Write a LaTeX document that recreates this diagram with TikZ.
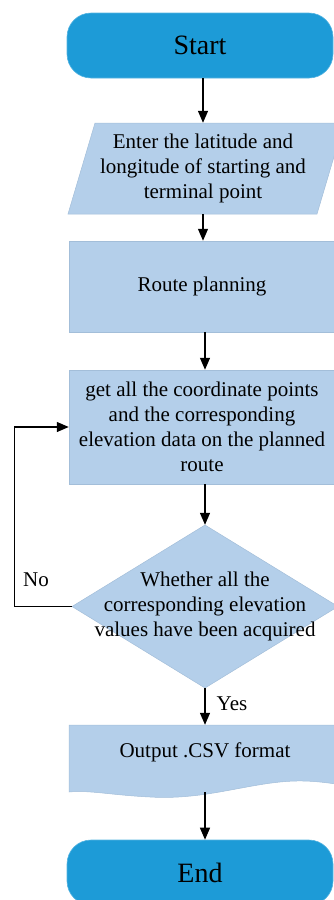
\documentclass[tikz,border=0pt]{standalone}
\usepackage{fontspec}
\setmainfont{Liberation Serif}
\usetikzlibrary{arrows.meta}
\definecolor{startblue}{HTML}{1D9BD7}
\definecolor{lightblue}{HTML}{B4CFEA}
\definecolor{edgeblue}{HTML}{A3BED9}
\begin{document}
\begin{tikzpicture}[x=1pt,y=-1pt,
  term/.style={rectangle, rounded corners=24pt, fill=startblue, draw=startblue!75!white, line width=0.6pt,
    minimum width=266pt, minimum height=65pt, inner sep=0pt, font=\fontsize{28}{32}\selectfont},
  procbox/.style={rectangle, fill=lightblue, draw=edgeblue, line width=0.5pt, minimum width=266pt,
    inner sep=0pt, align=center, font=\fontsize{21}{25}\selectfont},
  txt/.style={align=center, inner sep=0pt, font=\fontsize{21}{25}\selectfont},
  shapefill/.style={fill=lightblue, draw=edgeblue, line width=0.5pt},
  arr/.style={line width=1.3pt, -{Triangle[width=10pt,length=12pt]}}]
\useasboundingbox (0,0) rectangle (333,900);

% Start
\node[term] (start) at (200,45.5) {Start};

% Input parallelogram
\path[shapefill] (95,123) -- (344,123) -- (317,214) -- (68,214) -- cycle;
\node[txt, minimum width=240pt, minimum height=91pt] (in) at (203,168.5)
  {Enter the latitude and\\longitude of starting and\\terminal point};

% Route planning
\node[procbox, minimum height=91pt] (route) at (202,286.5) {Route planning};

% Get all points
\node[procbox, minimum height=114pt] (get) at (202,427)
  {get all the coordinate points\\and the corresponding\\elevation data on the planned\\route};

% Decision diamond
\path[shapefill] (205,525) -- (338,606.5) -- (205,688) -- (72,606.5) -- cycle;
\node[txt, minimum width=266pt, minimum height=163pt] (dec) at (205,606.5)
  {Whether all the\\corresponding elevation\\values have been acquired};

% Output document shape
\path[shapefill] (69,725) -- (336,725) -- (336,784)
  .. controls (315,781) and (300,780) .. (280,782)
  .. controls (240,786) and (200,800) .. (150,797)
  .. controls (110,795) and (90,790) .. (69,792) -- cycle;
\node[txt, minimum width=266pt, minimum height=67pt] (out) at (202,758.5) {};
\node[txt] (outtext) at (205,752) {Output .CSV format};

% End
\node[term] (end) at (200,872.5) {End};

% Connectors
\draw[arr] (start.south -| in.north) -- (in.north);
\draw[arr] (in.south) -- (in.south |- route.north);
\draw[arr] (route.south -| dec.north) -- (dec.north |- get.north);
\draw[arr] (get.south -| dec.north) -- (dec.north);
\draw[arr] (dec.south) -- (dec.south |- out.north);
\draw[arr] (out.south -| dec.south) -- (dec.south |- end.north);
\draw[arr] (dec.west) -- ++(-57,0) |- (get.west);

% Labels
\node[txt] (nolabel) at (36,580) {No};
\node[txt] (yeslabel) at (232,704) {Yes};
\end{tikzpicture}
\end{document}
